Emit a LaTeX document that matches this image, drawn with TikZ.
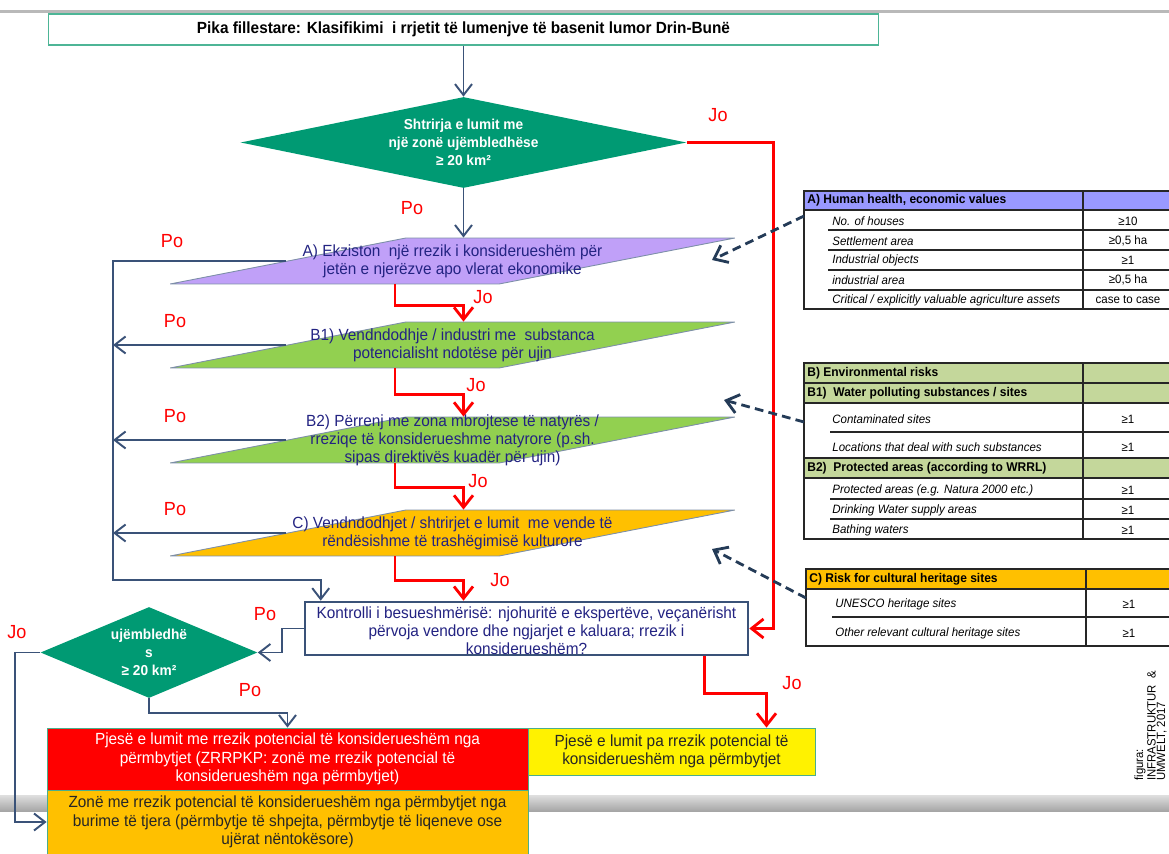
\documentclass[tikz,border=0pt]{standalone}
\usepackage{fontspec}
\setmainfont{Liberation Sans}[FakeStretch=0.95]
\usepackage{xcolor}
\usepackage{tikz}
\usetikzlibrary{arrows.meta, calc, shapes.geometric, positioning}
\definecolor{startline}{HTML}{4DB596}
\definecolor{decgreen}{HTML}{009A73}
\definecolor{lilac}{HTML}{C0A0F8}
\definecolor{leaf}{HTML}{92D050}
\definecolor{amber}{HTML}{FFC000}
\definecolor{inkblue}{HTML}{232382}
\definecolor{flowblue}{HTML}{3A5278}
\definecolor{hintblue}{HTML}{243B57}
\definecolor{edgegray}{HTML}{7D8FA8}
\definecolor{headblue}{HTML}{9999FF}
\definecolor{headgreen}{HTML}{C4D79B}
\definecolor{boxline}{HTML}{4BAE8C}
\tikzset{
    start/.style={rectangle, draw=startline, line width=0.8pt, fill=white, minimum width=16.6cm, minimum height=0.62cm, inner sep=0pt, font=\bfseries\fontsize{9.2}{10}\selectfont},
    decision/.style={diamond, fill=decgreen, inner sep=2pt},
    dtext/.style={text=white, align=center, inner sep=0pt, font=\bfseries\fontsize{8.2}{10.2}\selectfont},
    para/.style={trapezium, trapezium left angle=21.6, trapezium right angle=158.4, trapezium stretches=true, draw=edgegray, line width=0.5pt, minimum width=11.3cm, minimum height=0.92cm, inner sep=2pt},
    ptext/.style={text=inkblue, align=center, inner sep=0pt, font=\fontsize{9.2}{10.2}\selectfont},
    check/.style={rectangle, draw=flowblue, line width=1.5pt, fill=white, minimum width=8.86cm, minimum height=1.06cm, inner sep=0pt},
    result/.style={rectangle, draw=boxline, line width=0.5pt, align=center, inner sep=0pt, font=\fontsize{9.2}{10.4}\selectfont},
    po/.style={draw=flowblue, line width=1.1pt, -{Straight Barb[length=2.2mm, width=3.4mm]}},
    jo/.style={draw=red, line width=1.6pt, -{Straight Barb[length=2.4mm, width=3.8mm]}},
    hint/.style={draw=hintblue, line width=1.6pt, dash pattern=on 5pt off 3pt, -{Straight Barb[length=2.4mm, width=3.8mm]}},
    yn/.style={text=red, inner sep=0pt, font=\fontsize{10.8}{13}\selectfont},
    tab/.style={draw=black!85, line width=0.6pt},
    thead/.style={anchor=west, inner sep=0pt, font=\bfseries\fontsize{7.2}{8}\selectfont},
    trow/.style={anchor=west, inner sep=0pt, font=\itshape\fontsize{6.9}{8}\selectfont},
    tval/.style={inner sep=0pt, font=\fontsize{6.9}{8}\selectfont}
}
\begin{document}
\begin{tikzpicture}[x=0.02cm, y=-0.02cm]
    \useasboundingbox (0,0) rectangle (1169,854);
    \fill[gray!55] (0,10) rectangle (1169,13);
    \shade[top color=gray!25, bottom color=gray!70] (0,795) rectangle (1169,811);

    \node[start] (S) at (463.5,29.5) {Pika fillestare: Klasifikimi\ \ i rrjetit të lumenjve të basenit lumor Drin-Bunë};
    \node[decision, minimum width=8.92cm, minimum height=1.82cm] (D1) at (463.5,142.5) {};
    \node[dtext] (D1t) at (D1) {Shtrirja e lumit me\\një zonë ujëmbledhëse\\≥ 20 km²};

    \node[para, fill=lilac] (A) at (452.5,261) {};
    \node[ptext] (At) at (A) {A) Ekziston\ \ një rrezik i konsiderueshëm për\\jetën e njerëzve apo vlerat ekonomike};
    \node[para, fill=leaf] (B1) at (452.5,345) {};
    \node[ptext] (B1t) at (B1) {B1) Vendndodhje / industri me\ \ substanca\\potencialisht ndotëse për ujin};
    \node[para, fill=leaf] (B2) at (452.5,440) {};
    \node[ptext] (B2t) at (B2) {B2) Përrenj me zona mbrojtese të natyrës /\\rreziqe të konsiderueshme natyrore (p.sh.\\sipas direktivës kuadër për ujin)};
    \node[para, fill=amber] (C) at (452.5,533) {};
    \node[ptext] (Ct) at (C) {C) Vendndodhjet / shtrirjet e lumit\ \ me vende të\\rëndësishme të trashëgimisë kulturore};

    \node[check] (K) at (526.5,628.5) {};
    \node[ptext] (Kt) at (526.5,631) {Kontrolli i besueshmërisë: njohuritë e ekspertëve, veçanërisht\\përvoja vendore dhe ngjarjet e kaluara; rrezik i\\konsiderueshëm?};
    \node[decision, minimum width=4.34cm, minimum height=1.82cm] (D2) at (149,652.5) {};
    \node[dtext] (D2t) at (D2) {ujëmbledhë\\s\\≥ 20 km²};

    \node[result, fill=red, text=white, minimum width=9.62cm, minimum height=1.24cm] (R) at (287.5,759) {Pjesë e lumit me rrezik potencial të konsiderueshëm nga\\përmbytjet (ZRRPKP: zonë me rrezik potencial të\\konsiderueshëm nga përmbytjet)};
    \node[result, fill=yellow, text=black!85, minimum width=5.74cm, minimum height=0.94cm] (Y) at (671.5,751.5) {Pjesë e lumit pa rrezik potencial të\\konsiderueshëm nga përmbytjet};
    \node[result, fill=amber, text=black!85, minimum width=9.62cm, minimum height=1.28cm] (O) at (287.5,822) {Zonë me rrezik potencial të konsiderueshëm nga përmbytjet nga\\burime të tjera (përmbytje të shpejta, përmbytje të liqeneve ose\\ujërat nëntokësore)};

    \coordinate (mid) at (463.5,0);
    \coordinate (jx) at (395,0);
    \coordinate (lft) at (113,580);

    \draw[po] (S.south) -- (D1.north);
    \draw[po] (D1.south) -- (D1.south |- A.north);
    \draw[jo] (D1.east) -- ++(87,0) |- (K.east);
    \draw[jo] (A.south -| jx) -- ++(0,21) -| (B1.north -| mid);
    \draw[jo] (B1.south -| jx) -- ++(0,26) -| (B2.north -| mid);
    \draw[jo] (B2.south -| jx) -- ++(0,24) -| (C.north -| mid);
    \draw[jo] (C.south -| jx) -- ++(0,24) -| (K.north -| mid);
    \draw[po] (A.left side) -- (A.left side -| lft) -- (lft) -| ($(K.north west)+(17,0)$);
    \draw[po] (B1.left side) -- (B1.left side -| lft);
    \draw[po] (B2.left side) -- (B2.left side -| lft);
    \draw[po] (C.left side) -- (C.left side -| lft);
    \draw[po] (K.west) -- ++(-22,0) |- (D2.east);
    \draw[po] (D2.west) -- ++(-25,0) |- (O.west);
    \draw[po] (D2.south) -- ++(0,15) -| (R.north);
    \draw[jo] ($(K.south)+(178,0)$) -- ++(0,37) -| ($(Y.north)+(95,0)$);

    \node[yn] (j1) at (718,115) {Jo};
    \node[yn] (p1) at (412,208) {Po};
    \node[yn] (p2) at (172,241) {Po};
    \node[yn] (j2) at (483,297) {Jo};
    \node[yn] (p3) at (175,321) {Po};
    \node[yn] (j3) at (476,385) {Jo};
    \node[yn] (p4) at (175,416) {Po};
    \node[yn] (j4) at (478,481) {Jo};
    \node[yn] (p5) at (175,509) {Po};
    \node[yn] (j5) at (500,580) {Jo};
    \node[yn] (p6) at (265,614) {Po};
    \node[yn] (j6) at (17,632) {Jo};
    \node[yn] (p7) at (250,690) {Po};
    \node[yn] (j7) at (792,683) {Jo};

    % table A
    \fill[headblue] (804,191) rectangle (1180,210);
    \draw[tab] (804,191) rectangle (1180,309);
    \draw[tab] (804,210) -- (1180,210);
    \draw[tab] (1083,191) -- (1083,309);
    \draw[tab] (828,230) -- (1180,230);
    \draw[tab] (828,250) -- (1180,250);
    \draw[tab] (828,270) -- (1180,270);
    \draw[tab] (828,290) -- (1180,290);
    \node[thead] (ha) at (807,200.5) {A) Human health, economic values};
    \node[trow] (a1) at (832,221) {No. of houses};
    \node[trow] (a2) at (832,241) {Settlement area};
    \node[trow] (a3) at (832,260) {Industrial objects};
    \node[trow] (a4) at (832,280) {industrial area};
    \node[trow] (a5) at (832,300) {Critical / explicitly valuable agriculture assets};
    \node[tval] (va1) at (1128,221) {≥10};
    \node[tval] (va2) at (1128,241) {≥0,5 ha};
    \node[tval] (va3) at (1128,260) {≥1};
    \node[tval] (va4) at (1128,280) {≥0,5 ha};
    \node[tval] (va5) at (1128,300) {case to case};

    % table B
    \fill[headgreen] (804,363) rectangle (1180,403);
    \fill[headgreen] (804,458) rectangle (1180,478);
    \draw[tab] (804,363) rectangle (1180,539);
    \draw[tab] (804,383) -- (1180,383);
    \draw[tab] (804,403) -- (1180,403);
    \draw[tab] (830,432) -- (1180,432);
    \draw[tab] (804,458) -- (1180,458);
    \draw[tab] (804,478) -- (1180,478);
    \draw[tab] (830,499) -- (1180,499);
    \draw[tab, line width=1pt] (830,519) -- (1180,519);
    \draw[tab] (1083,363) -- (1083,539);
    \node[thead] (hb) at (807,373) {B) Environmental risks};
    \node[thead] (hb1) at (807,393) {B1)\ \ Water polluting substances / sites};
    \node[trow] (b1) at (832,419) {Contaminated sites};
    \node[trow] (b2) at (832,447) {Locations that deal with such substances};
    \node[thead] (hb2) at (807,468) {B2)\ \ Protected areas (according to WRRL)};
    \node[trow] (b3) at (832,490) {Protected areas (e.g. Natura 2000 etc.)};
    \node[trow] (b4) at (832,510) {Drinking Water supply areas};
    \node[trow] (b5) at (832,530) {Bathing waters};
    \node[tval] (vb1) at (1128,419) {≥1};
    \node[tval] (vb2) at (1128,447) {≥1};
    \node[tval] (vb3) at (1128,490) {≥1};
    \node[tval] (vb4) at (1128,510) {≥1};
    \node[tval] (vb5) at (1128,530) {≥1};

    % table C
    \fill[amber] (806,569) rectangle (1180,589);
    \draw[tab] (806,569) rectangle (1180,646);
    \draw[tab] (806,589) -- (1180,589);
    \draw[tab] (832,617) -- (1180,617);
    \draw[tab] (1086,569) -- (1086,646);
    \node[thead] (hc) at (809,579) {C) Risk for cultural heritage sites};
    \node[trow] (c1) at (835,604) {UNESCO heritage sites};
    \node[trow] (c2) at (835,633) {Other relevant cultural heritage sites};
    \node[tval] (vc1) at (1129,604) {≥1};
    \node[tval] (vc2) at (1129,633) {≥1};

    \coordinate (tabA) at (804,216);
    \coordinate (tabB) at (804,422);
    \coordinate (tabC) at (806,598);
    \coordinate (toA) at (712,260);
    \coordinate (toB) at (724,400);
    \coordinate (toC) at (712,549);
    \draw[hint] (tabA) -- (toA);
    \draw[hint] (tabB) -- (toB);
    \draw[hint] (tabC) -- (toC);

    \node[rotate=90, anchor=north west, align=left, inner sep=0pt, font=\fontsize{6.8}{5.4}\selectfont] (cr) at (1134,781) {figura:\\INFRASTRUKTUR\ \ \&\\UMWELT, 2017};
\end{tikzpicture}
\end{document}
